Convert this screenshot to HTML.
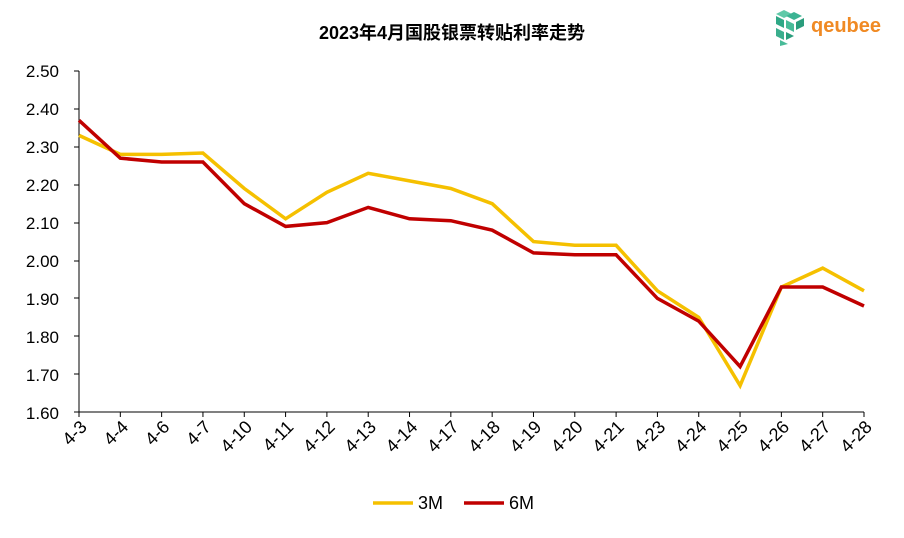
<!DOCTYPE html><html><head><meta charset="utf-8"><style>body{margin:0;background:#fff}</style></head><body>
<svg width="904" height="533" xmlns="http://www.w3.org/2000/svg" font-family="Liberation Sans, sans-serif">
<text x="452" y="39" text-anchor="middle" font-size="18" font-weight="bold" font-family="Liberation Sans, Noto Sans CJK SC, sans-serif">2023年4月国股银票转贴利率走势</text>
<g transform="translate(776,10)">
<polygon points="8,0 16,4 8,8 0,4" fill="#5fc9a8"/><polygon points="18,2 26,6 18,10 10,6" fill="#3bb393"/>
<polygon points="0,6 8,10 8,18 0,14" fill="#2fa886"/><polygon points="10,10 18,14 18,22 10,18" fill="#48bb98"/>
<polygon points="20,12 28,8 28,16 20,20" fill="#2a9d7c"/><polygon points="0,18 8,22 8,30 0,26" fill="#3aae8d"/>
<polygon points="10,22 18,26 10,30" fill="#2a9d7c"/><polygon points="4,30 12,34 4,36" fill="#48bb98"/>
</g>
<text x="811" y="32" font-size="20" fill="#f08a24" font-weight="bold">qeubee</text>
<g font-size="17" fill="#000" text-anchor="end">
<text x="59" y="77">2.50</text><text x="59" y="115">2.40</text><text x="59" y="153">2.30</text><text x="59" y="191">2.20</text><text x="59" y="229">2.10</text><text x="59" y="267">2.00</text><text x="59" y="305">1.90</text><text x="59" y="343">1.80</text><text x="59" y="381">1.70</text><text x="59" y="419">1.60</text>
</g>
<g stroke="#000" stroke-width="1">
<line x1="79" y1="71" x2="79" y2="412"/>
<line x1="79" y1="412" x2="864" y2="412"/>
<line x1="74" y1="71" x2="79" y2="71"/><line x1="74" y1="109" x2="79" y2="109"/><line x1="74" y1="147" x2="79" y2="147"/><line x1="74" y1="185" x2="79" y2="185"/><line x1="74" y1="223" x2="79" y2="223"/><line x1="74" y1="261" x2="79" y2="261"/><line x1="74" y1="298" x2="79" y2="298"/><line x1="74" y1="336" x2="79" y2="336"/><line x1="74" y1="374" x2="79" y2="374"/><line x1="74" y1="412" x2="79" y2="412"/>
</g>
<g id="ticks" stroke="#000"></g>
<g id="labels" font-size="18" text-anchor="end"></g>
<polyline fill="none" stroke="#f5c000" stroke-width="3.5" points="79,135.4 120.3,154.4 161.6,154.4 202.9,153 244.3,188.5 285.6,218.8 326.9,192.3 368.2,173.3 409.5,180.9 450.8,188.5 492.2,203.7 533.5,241.6 574.8,245.3 616.1,245.3 657.4,290.8 698.7,317.4 740.1,385.6 781.4,287 822.7,268.1 864,290.8"/>
<polyline fill="none" stroke="#c00000" stroke-width="3.5" points="79,120.3 120.3,158.2 161.6,162 202.9,162 244.3,203.7 285.6,226.4 326.9,222.6 368.2,207.4 409.5,218.8 450.8,220.7 492.2,230.2 533.5,252.9 574.8,254.8 616.1,254.8 657.4,298.4 698.7,321.1 740.1,366.6 781.4,287 822.7,287 864,306"/>
<line x1="373" y1="503" x2="413" y2="503" stroke="#f5c000" stroke-width="3.5"/><text x="418" y="509" font-size="18">3M</text>
<line x1="464" y1="503" x2="504" y2="503" stroke="#c00000" stroke-width="3.5"/><text x="509" y="509" font-size="18">6M</text>
<script>
var L=["4-3","4-4","4-6","4-7","4-10","4-11","4-12","4-13","4-14","4-17","4-18","4-19","4-20","4-21","4-23","4-24","4-25","4-26","4-27","4-28"];
var t=document.getElementById("ticks"),l=document.getElementById("labels"),ns="http://www.w3.org/2000/svg";
L.forEach(function(s,i){var x=79+i*785/19;var ln=document.createElementNS(ns,"line");ln.setAttribute("x1",x);ln.setAttribute("x2",x);ln.setAttribute("y1",412);ln.setAttribute("y2",417);t.appendChild(ln);
var tx=document.createElementNS(ns,"text");tx.setAttribute("transform","translate("+(x+9)+",428) rotate(-45)");tx.textContent=s;l.appendChild(tx);});
</script>
</svg></body></html>
